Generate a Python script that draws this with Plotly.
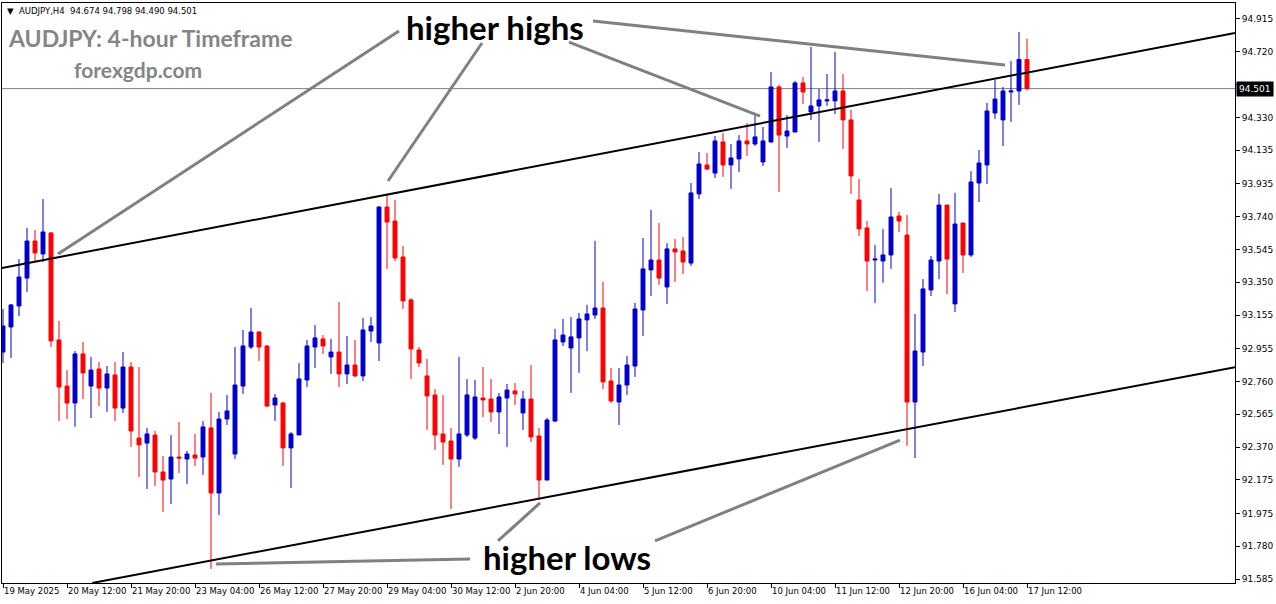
import plotly.graph_objects as go

# ---------------- data ----------------
bar_index = list(range(129))   # one H4 bar per slot, 19 May 2025 -> 17 Jun 2025 12:00

opens = [92.935, 93.084, 93.209, 93.375, 93.595, 93.518, 93.643, 93.007, 92.733, 92.632,
         92.924, 92.733, 92.834, 92.721, 92.799, 92.602, 92.846, 92.424, 92.394, 92.442,
         92.222, 92.180, 92.311, 92.299, 92.323, 92.311, 92.484, 92.097, 92.537, 92.329,
         92.733, 92.965, 93.054, 92.971, 92.620, 92.632, 92.365, 92.442, 92.769, 92.965,
         93.013, 92.906, 92.935, 92.805, 92.858, 92.793, 93.060, 92.989, 93.797, 93.714,
         93.500, 93.245, 92.947, 92.793, 92.680, 92.448, 92.406, 92.299, 92.442, 92.424,
         92.662, 92.656, 92.579, 92.662, 92.704, 92.573, 92.656, 92.436, 92.174, 92.525,
         92.995, 92.959, 93.019, 93.126, 93.155, 93.197, 92.763, 92.638, 92.739, 92.852,
         93.185, 93.423, 93.482, 93.322, 93.548, 93.536, 93.464, 93.875, 94.047, 93.999,
         94.184, 94.047, 94.083, 94.190, 94.172, 94.065, 94.184, 94.511, 94.219, 94.243,
         94.535, 94.362, 94.398, 94.428, 94.428, 94.487, 94.315, 93.839, 93.673, 93.482,
         93.476, 93.512, 93.744, 93.631, 92.638, 92.935, 93.304, 93.476, 93.809, 93.221,
         93.702, 93.512, 93.940, 94.047, 94.356, 94.315, 94.481, 94.487, 94.674]

highs = [93.191, 93.221, 93.488, 93.673, 93.661, 93.845, 93.649, 93.120, 92.828, 92.941,
         92.995, 92.906, 92.876, 92.852, 92.876, 92.935, 92.876, 92.846, 92.484, 92.466,
         92.317, 92.442, 92.519, 92.347, 92.448, 92.525, 92.692, 92.579, 92.680, 92.965,
         93.066, 93.197, 93.060, 92.977, 92.686, 92.638, 92.460, 92.870, 93.007, 93.096,
         93.036, 93.013, 93.233, 93.031, 93.007, 93.138, 93.143, 93.803, 93.869, 93.839,
         93.566, 93.256, 92.965, 92.894, 92.715, 92.680, 92.484, 92.906, 92.775, 92.769,
         92.846, 92.775, 92.692, 92.745, 92.751, 92.704, 92.858, 92.484, 92.543, 93.072,
         93.132, 93.143, 93.167, 93.215, 93.595, 93.352, 92.840, 92.840, 92.912, 93.227,
         93.613, 93.780, 93.702, 93.583, 93.607, 93.619, 93.940, 94.124, 94.118, 94.219,
         94.237, 94.172, 94.225, 94.297, 94.344, 94.273, 94.600, 94.523, 94.344, 94.547,
         94.570, 94.749, 94.499, 94.588, 94.719, 94.588, 94.374, 93.964, 93.714, 93.572,
         93.667, 93.910, 93.768, 93.750, 93.161, 93.369, 93.506, 93.875, 93.809, 93.881,
         93.702, 94.011, 94.136, 94.416, 94.552, 94.511, 94.665, 94.838, 94.798]

lows = [92.870, 92.900, 93.149, 93.292, 93.470, 93.470, 92.965, 92.525, 92.537, 92.490,
        92.656, 92.543, 92.614, 92.579, 92.525, 92.573, 92.371, 92.192, 92.121, 92.139,
        91.984, 92.032, 92.216, 92.151, 92.258, 92.204, 91.645, 91.966, 92.501, 92.299,
        92.686, 92.953, 92.882, 92.608, 92.525, 92.258, 92.127, 92.442, 92.727, 92.840,
        92.924, 92.805, 92.727, 92.745, 92.787, 92.763, 92.995, 92.882, 93.429, 93.476,
        93.191, 92.775, 92.846, 92.472, 92.353, 92.264, 92.002, 92.252, 92.430, 92.412,
        92.549, 92.519, 92.448, 92.371, 92.620, 92.472, 92.400, 92.056, 92.174, 92.519,
        92.971, 92.692, 92.811, 92.941, 93.132, 92.715, 92.632, 92.501, 92.680, 92.787,
        93.031, 93.268, 93.334, 93.221, 93.352, 93.399, 93.447, 93.845, 94.017, 93.970,
        93.976, 93.904, 94.005, 94.101, 94.160, 94.041, 94.178, 93.887, 94.148, 94.243,
        94.410, 94.315, 94.184, 94.398, 94.350, 94.142, 93.875, 93.625, 93.298, 93.227,
        93.346, 93.429, 93.649, 92.377, 92.305, 92.852, 93.268, 93.369, 93.280, 93.173,
        93.405, 93.500, 93.827, 93.934, 94.321, 94.160, 94.303, 94.404, 94.490]

closes = [93.090, 93.215, 93.381, 93.595, 93.524, 93.649, 93.001, 92.727, 92.632, 92.924,
          92.811, 92.828, 92.721, 92.805, 92.602, 92.846, 92.466, 92.383, 92.448, 92.222,
          92.174, 92.311, 92.305, 92.329, 92.305, 92.490, 92.097, 92.537, 92.585, 92.739,
          92.971, 93.054, 92.965, 92.614, 92.662, 92.365, 92.448, 92.775, 92.971, 93.019,
          92.971, 92.935, 92.805, 92.858, 92.793, 93.066, 93.090, 93.797, 93.708, 93.494,
          93.239, 92.953, 92.870, 92.674, 92.442, 92.400, 92.299, 92.448, 92.680, 92.668,
          92.650, 92.579, 92.668, 92.709, 92.686, 92.656, 92.430, 92.174, 92.531, 93.007,
          93.036, 93.025, 93.132, 93.161, 93.197, 92.757, 92.644, 92.739, 92.858, 93.191,
          93.429, 93.482, 93.375, 93.548, 93.530, 93.470, 93.881, 94.053, 94.023, 94.190,
          94.047, 94.089, 94.190, 94.172, 94.214, 94.190, 94.511, 94.225, 94.249, 94.535,
          94.481, 94.398, 94.434, 94.434, 94.487, 94.315, 93.982, 93.667, 93.476, 93.488,
          93.512, 93.738, 93.714, 92.638, 92.941, 93.310, 93.482, 93.809, 93.488, 93.696,
          93.512, 93.946, 94.059, 94.368, 94.439, 94.487, 94.487, 94.674, 94.501]

time_tick_bars = [0, 8, 16, 24, 32, 40, 48, 56, 64, 72, 80, 88, 96, 104, 112, 120, 128]
time_tick_labels = ["19 May 2025", "20 May 12:00", "21 May 20:00", "23 May 04:00",
                    "26 May 12:00", "27 May 20:00", "29 May 04:00", "30 May 12:00",
                    "2 Jun 20:00", "4 Jun 04:00", "5 Jun 12:00", "6 Jun 20:00",
                    "10 Jun 04:00", "11 Jun 12:00", "12 Jun 20:00", "16 Jun 04:00",
                    "17 Jun 12:00"]
price_tick_values = [94.915, 94.720, 94.525, 94.330, 94.135, 93.935,
                     93.740, 93.545, 93.350, 93.155, 92.955, 92.760,
                     92.565, 92.370, 92.175, 91.975, 91.780, 91.585]
# 94.525 sits under the current-price box in the reference, so its label is hidden
price_tick_labels = ["94.915", "94.720", "", "94.330", "94.135", "93.935",
                     "93.740", "93.545", "93.350", "93.155", "92.955", "92.760",
                     "92.565", "92.370", "92.175", "91.975", "91.780", "91.585"]

# drawn objects: (bar, price) end points
upper_channel = [(-0.125, 93.435), (154.0, 94.832)]
lower_channel = [(11.15, 91.562), (154.0, 92.845)]
highs_pointers = [[(49.5, 94.844), (6.875, 93.518)],
                  [(59.875, 94.772), (48.125, 93.952)],
                  [(70.75, 94.778), (94.625, 94.338)],
                  [(73.75, 94.903), (125.25, 94.642)]]
lows_pointers = [[(58.375, 91.705), (26.625, 91.675)],
                 [(61.875, 91.812), (67.125, 92.038)],
                 [(81.5, 91.812), (112.125, 92.412)]]

symbol = "AUDJPY,H4"
# ---------------------------------------------------------------

W, H = 1276, 604
L, R, T, B = 2, 1235, 3, 583   # plot area in pixels


def px(xp):
    return (xp - L) / (R - L)


def py(yp):
    return (B - yp) / (B - T)


BLUE = "#0000CC"
RED = "#FF0000"
GRAY = "#808080"

fig = go.Figure()
fig.add_trace(go.Candlestick(
    x=bar_index, open=opens, high=highs, low=lows, close=closes,
    increasing=dict(line=dict(color=BLUE, width=1), fillcolor=BLUE),
    decreasing=dict(line=dict(color=RED, width=1), fillcolor=RED),
    hoverinfo="skip", showlegend=False,
))

shapes = []
last_close = closes[-1]
shapes.append(dict(type="line", xref="paper", yref="y", x0=0, x1=1,
                   y0=last_close, y1=last_close, line=dict(color=GRAY, width=1), layer="below"))
for (a, b) in [upper_channel, lower_channel]:
    shapes.append(dict(type="line", xref="x", yref="y", x0=a[0], y0=a[1], x1=b[0], y1=b[1],
                       line=dict(color="black", width=2)))
for seg in highs_pointers + lows_pointers:
    a, b = seg
    shapes.append(dict(type="line", xref="x", yref="y", x0=a[0], y0=a[1], x1=b[0], y1=b[1],
                       line=dict(color=GRAY, width=3)))

header = "\u25BC  %s  %.3f %.3f %.3f %.3f" % (symbol, opens[-1], highs[-1], lows[-1], closes[-1])

annotations = [
    dict(text=header, xref="paper", yref="paper", x=px(5), y=py(11), xanchor="left",
         yanchor="middle", showarrow=False, font=dict(family="DejaVu Sans", size=8.5, color="black")),
    dict(text="<b>AUDJPY: 4-hour Timeframe</b>", xref="paper", yref="paper", x=px(6), y=py(38),
         xanchor="left", yanchor="middle", showarrow=False,
         font=dict(family="Lato", size=23, color="#858585")),
    dict(text="<b>forexgdp.com</b>", xref="paper", yref="paper", x=px(72), y=py(70),
         xanchor="left", yanchor="middle", showarrow=False,
         font=dict(family="Lato", size=21, color="#858585")),
    dict(text="<b>higher highs</b>", xref="paper", yref="paper", x=px(495), y=py(27),
         xanchor="center", yanchor="middle", showarrow=False,
         font=dict(family="Lato", size=33, color="black")),
    dict(text="<b>higher lows</b>", xref="paper", yref="paper", x=px(567), y=py(557),
         xanchor="center", yanchor="middle", showarrow=False,
         font=dict(family="Lato", size=33, color="black")),
    dict(text="%.3f" % last_close, xref="paper", yref="y", x=1, y=last_close, xanchor="left",
         yanchor="middle", xshift=1, showarrow=False, bgcolor="black", borderpad=2,
         font=dict(family="DejaVu Sans", size=9, color="white")),
]

fig.update_layout(
    width=W, height=H, autosize=False,
    margin=dict(l=L, r=W - R, t=T, b=H - B, pad=0),
    paper_bgcolor="white", plot_bgcolor="white",
    showlegend=False, shapes=shapes, annotations=annotations,
    boxgap=0.3, boxgroupgap=0.3,
    xaxis=dict(range=[-0.125, 154.0], rangeslider=dict(visible=False), automargin=False,
               tickmode="array", tickvals=time_tick_bars, ticktext=time_tick_labels,
               tickangle=0, ticks="outside", ticklen=4, tickcolor="black",
               ticklabelposition="outside right",
               showgrid=False, zeroline=False, showline=True, linecolor="black", linewidth=1,
               mirror=True, tickfont=dict(family="DejaVu Sans", size=8.5, color="black")),
    yaxis=dict(range=[91.562, 95.010], side="right", tickmode="array", automargin=False,
               tickvals=price_tick_values, ticktext=price_tick_labels,
               ticks="outside", ticklen=4, tickcolor="black",
               showgrid=False, zeroline=False, showline=True, linecolor="black", linewidth=1,
               mirror=True, tickfont=dict(family="DejaVu Sans", size=9, color="black")),
)

fig.write_html("out.html", config={"displayModeBar": False},
               post_script="document.body.style.margin='0';document.body.style.overflow='hidden';")
